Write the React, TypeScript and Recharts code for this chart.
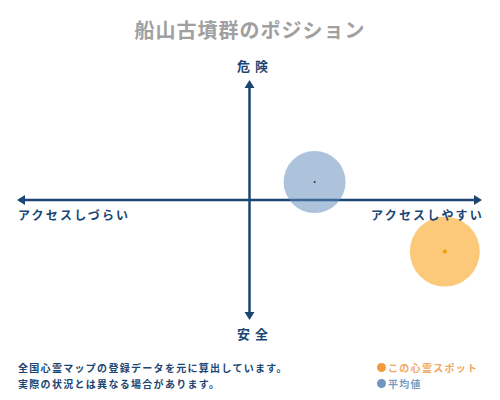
import React from 'react'
import { ScatterChart, Scatter, XAxis, YAxis, ReferenceLine } from 'recharts'

const title = '船山古墳群のポジション'
const axisTop = '危険'
const axisBottom = '安全'
const axisLeft = 'アクセスしづらい'
const axisRight = 'アクセスしやすい'
const notes = ['全国心霊マップの登録データを元に算出しています。', '実際の状況とは異なる場合があります。']
const legendNames = ['この心霊スポット', '平均値']

const averagePoint = [{ x: 28, y: 15 }]
const spotPoint = [{ x: 84, y: -43 }]

const NAVY = '#1b4673'
const FONT = '"Noto Sans CJK JP", "Noto Sans", sans-serif'

const hArrow = (props: any) => {
  const { x1, y1, x2 } = props
  return (
    <g>
      <line x1={x1 + 4} y1={y1} x2={x2 - 4} y2={y1} stroke={NAVY} strokeWidth={2.5} />
      <polygon points={`${x1},${y1} ${x1 + 8},${y1 - 5} ${x1 + 8},${y1 + 5}`} fill={NAVY} />
      <polygon points={`${x2},${y1} ${x2 - 8},${y1 - 5} ${x2 - 8},${y1 + 5}`} fill={NAVY} />
    </g>
  )
}

const vArrow = (props: any) => {
  const { x1, y1, y2 } = props
  const top = Math.min(y1, y2)
  const bottom = Math.max(y1, y2)
  return (
    <g>
      <line x1={x1} y1={top + 4} x2={x1} y2={bottom - 4} stroke={NAVY} strokeWidth={2.5} />
      <polygon points={`${x1},${top} ${x1 - 5},${top + 8} ${x1 + 5},${top + 8}`} fill={NAVY} />
      <polygon points={`${x1},${bottom} ${x1 - 5},${bottom - 8} ${x1 + 5},${bottom - 8}`} fill={NAVY} />
    </g>
  )
}

const averageShape = (props: any) => (
  <g>
    <circle cx={props.cx} cy={props.cy} r={31} fill="#5b85b8" fillOpacity={0.5} />
    <circle cx={props.cx} cy={props.cy} r={1} fill="#333" />
  </g>
)

const spotShape = (props: any) => (
  <g>
    <circle cx={props.cx} cy={props.cy} r={35} fill="#fbb03b" fillOpacity={0.68} />
    <circle cx={props.cx} cy={props.cy} r={2} fill="#f0a000" />
  </g>
)

const labelStyle: React.CSSProperties = {
  position: 'absolute',
  fontFamily: FONT,
  fontWeight: 700,
  color: NAVY,
  whiteSpace: 'nowrap',
}

export default function App() {
  return (
    <div style={{ position: 'absolute', left: 0, top: 0, width: 500, height: 400, background: '#fff' }}>
      <ScatterChart width={500} height={400} margin={{ top: 80, right: 18, bottom: 80, left: 17 }}>
        <XAxis type="number" dataKey="x" domain={[-100, 100]} hide />
        <YAxis type="number" dataKey="y" domain={[-100, 100]} hide />
        <Scatter data={averagePoint} shape={averageShape} isAnimationActive={false} />
        <Scatter data={spotPoint} shape={spotShape} isAnimationActive={false} />
        <ReferenceLine y={0} shape={hArrow} />
        <ReferenceLine x={0} shape={vArrow} />
      </ScatterChart>

      <div style={{ ...labelStyle, left: 0, width: 500, top: 15, textAlign: 'center', fontSize: 20, color: '#a0a0a0', letterSpacing: 1 }}>
        {title}
      </div>
      <div style={{ ...labelStyle, left: 0, width: 500, top: 56, textAlign: 'center', fontSize: 13, letterSpacing: 5, paddingLeft: 5 }}>
        {axisTop}
      </div>
      <div style={{ ...labelStyle, left: 0, width: 500, top: 324, textAlign: 'center', fontSize: 13, letterSpacing: 5, paddingLeft: 5 }}>
        {axisBottom}
      </div>
      <div style={{ ...labelStyle, left: 18, top: 206, fontSize: 12, letterSpacing: 2.2 }}>{axisLeft}</div>
      <div style={{ ...labelStyle, right: 16, top: 206, fontSize: 12, letterSpacing: 2.2 }}>{axisRight}</div>

      {notes.map((n, i) => (
        <div key={n} style={{ ...labelStyle, left: 18, top: 360 + i * 16, fontSize: 10, letterSpacing: 1.3 }}>
          {n}
        </div>
      ))}

      {legendNames.map((n, i) => (
        <div
          key={n}
          style={{
            ...labelStyle,
            left: 377,
            top: 360 + i * 16,
            fontSize: 10,
            letterSpacing: 1.3,
            color: i === 0 ? '#f0a860' : '#7b9cc2',
            display: 'flex',
            alignItems: 'center',
          }}
        >
          <span
            style={{
              display: 'inline-block',
              width: 9,
              height: 9,
              borderRadius: '50%',
              marginRight: 2,
              background: i === 0 ? '#f39a3c' : '#6f96c2',
            }}
          />
          {n}
        </div>
      ))}
    </div>
  )
}
